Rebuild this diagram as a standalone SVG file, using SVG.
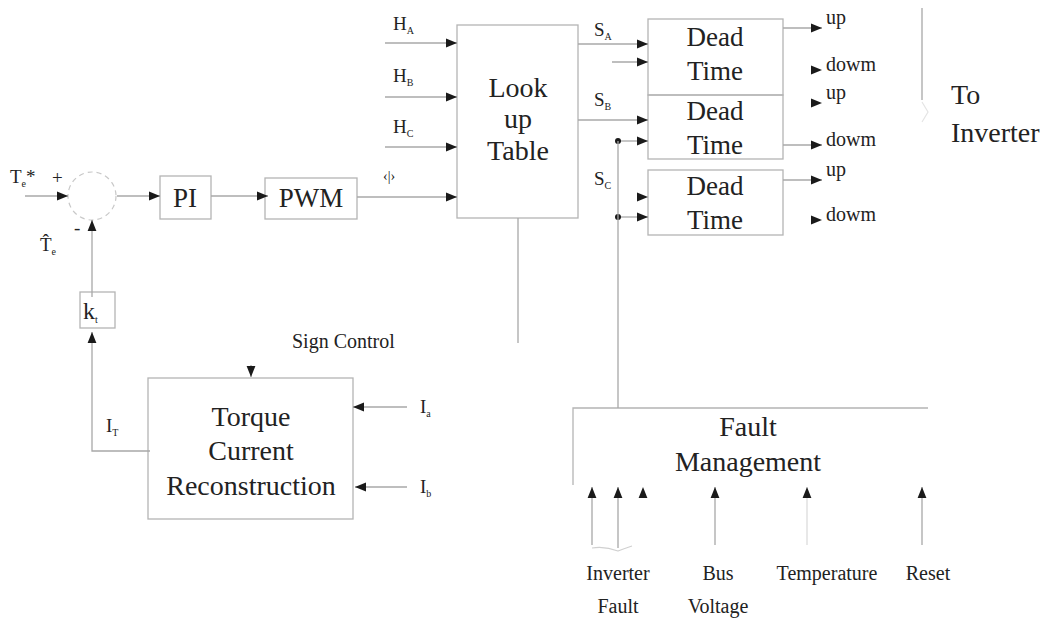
<svg xmlns="http://www.w3.org/2000/svg" width="1059" height="620" viewBox="0 0 1059 620">
<defs>
<marker id="ah" viewBox="0 0 10 10" refX="10" refY="5" markerWidth="11" markerHeight="11" markerUnits="userSpaceOnUse" orient="auto"><path d="M0,1 L10,5 L0,9 z" fill="#1a1a1a"/></marker>
<style>
.ln{stroke:#a8a8a8;stroke-width:1.3;fill:none}
.bx{stroke:#b4b4b4;stroke-width:1.3;fill:none}
.ar{stroke:#a8a8a8;stroke-width:1.3;fill:none;marker-end:url(#ah)}
.na{stroke:none;fill:none;marker-end:url(#ah)}
text{font-family:"Liberation Serif","Times New Roman",serif;fill:#222}
.big{font-size:28px;text-anchor:middle}
.mid{font-size:27px;text-anchor:middle}
.sm{font-size:20px}
.lab{font-size:19px}
.sub{font-size:10px}
</style>
</defs>
<rect width="1059" height="620" fill="#fff"/>

<g id="sum">
<circle cx="92" cy="196" r="24" fill="none" stroke="#c8c8c8" stroke-width="1.2" stroke-dasharray="5 4"/>
<text x="52" y="184" class="lab">+</text>
<text x="74" y="234" class="lab">-</text>
</g>
<g id="te-star"><text x="10" y="183" class="lab">T<tspan class="sub" dy="4">e</tspan><tspan dy="-4">*</tspan></text></g>
<g id="te-hat"><text x="40" y="251" class="lab">T&#770;<tspan class="sub" dy="4">e</tspan></text></g>

<g id="pi"><rect x="160" y="176" width="51" height="43" class="bx"/><text x="185" y="207" class="mid">PI</text></g>
<g id="pwm"><rect x="265" y="178" width="92" height="41" class="bx"/><text x="311" y="207" class="mid">PWM</text></g>

<g id="hall">
<text x="393" y="30" class="lab">H<tspan class="sub" dy="4">A</tspan></text>
<text x="393" y="82" class="lab">H<tspan class="sub" dy="4">B</tspan></text>
<text x="393" y="133" class="lab">H<tspan class="sub" dy="4">C</tspan></text>
<text x="383" y="181" font-size="14">‹|›</text>
</g>

<g id="lut"><rect x="457" y="25" width="121" height="193" class="bx"/>
<text x="518" y="97" class="big">Look</text><text x="518" y="128" class="big">up</text><text x="518" y="160" class="big">Table</text></g>

<g id="s-labels">
<text x="594" y="36" class="lab">S<tspan class="sub" dy="4">A</tspan></text>
<text x="594" y="106" class="lab">S<tspan class="sub" dy="4">B</tspan></text>
<text x="594" y="185" class="lab">S<tspan class="sub" dy="4">C</tspan></text>
</g>

<g id="dt1"><rect x="648" y="19" width="135" height="76" class="bx"/><text x="715" y="46" class="mid">Dead</text><text x="715" y="80" class="mid">Time</text></g>
<g id="dt2"><rect x="648" y="95" width="135" height="64" class="bx"/><text x="715" y="120" class="mid">Dead</text><text x="715" y="154" class="mid">Time</text></g>
<g id="dt3"><rect x="648" y="170" width="135" height="65" class="bx"/><text x="715" y="195" class="mid">Dead</text><text x="715" y="229" class="mid">Time</text></g>

<g id="outputs">
<text x="826" y="24" class="sm">up</text>
<text x="826" y="71" class="sm">dowm</text>
<text x="826" y="99" class="sm">up</text>
<text x="826" y="146" class="sm">dowm</text>
<text x="826" y="176" class="sm">up</text>
<text x="826" y="221" class="sm">dowm</text>
</g>
<g id="to-inverter"><text x="951" y="104" font-size="28">To</text><text x="951" y="142" font-size="28">Inverter</text></g>

<g id="kt"><rect x="80" y="292" width="35" height="36" class="bx"/><text x="83" y="319" font-size="24">k<tspan class="sub" dy="4">t</tspan></text></g>
<g id="it"><text x="106" y="432" class="lab">I<tspan class="sub" dy="4">T</tspan></text></g>

<g id="tcr"><rect x="148" y="378" width="205" height="141" class="bx"/>
<text x="251" y="426" class="big">Torque</text><text x="251" y="460" class="big">Current</text><text x="251" y="495" class="big">Reconstruction</text></g>
<g id="sign"><text x="292" y="348" class="sm">Sign Control</text></g>
<g id="ia"><text x="420" y="413" class="lab">I<tspan class="sub" dy="4">a</tspan></text><text x="420" y="493" class="lab">I<tspan class="sub" dy="4">b</tspan></text></g>

<g id="fault"><path d="M573,485 V408 H928" class="bx"/>
<text x="748" y="436" class="big">Fault</text><text x="748" y="471" class="big">Management</text></g>
<g id="fault-inputs">
<text x="618" y="580" class="sm" text-anchor="middle">Inverter</text>
<text x="618" y="613" class="sm" text-anchor="middle">Fault</text>
<text x="718" y="580" class="sm" text-anchor="middle">Bus</text>
<text x="718" y="613" class="sm" text-anchor="middle">Voltage</text>
<text x="827" y="580" class="sm" text-anchor="middle">Temperature</text>
<text x="928" y="580" class="sm" text-anchor="middle">Reset</text>
</g>

<g id="connectors">
<path d="M25,196 H68" class="ar"/>
<path d="M92,297 V220" class="ar"/>
<path d="M117,196 H160" class="ar"/>
<path d="M211,196 H268" class="ar"/>
<path d="M357,197 H457" class="ar"/>
<path d="M385,43 H457" class="ar"/>
<path d="M385,97 H457" class="ar"/>
<path d="M385,147 H457" class="ar"/>
<path d="M518,218 V343" class="ln"/>
<path d="M578,44 H648" class="ar"/>
<path d="M612,62 H648" class="ar"/>
<path d="M578,120 H648" class="ar"/>
<path d="M618,141 H648" class="ar"/>
<path d="M630,197 H648" class="na"/>
<path d="M618,217 H648" class="ar"/>
<circle cx="618" cy="141" r="3" fill="#1a1a1a"/>
<circle cx="618" cy="217" r="3" fill="#1a1a1a"/>
<path d="M618,141 V408" class="ln"/>
<path d="M783,28 H822" class="ar"/>
<path d="M810,70 H822" class="na"/>
<path d="M810,103 H822" class="na"/>
<path d="M783,145 H822" class="ar"/>
<path d="M783,180 H822" class="ar"/>
<path d="M810,220 H822" class="na"/>
<path d="M922,8 V100" class="ln"/>
<path d="M922,102 L928,112 L922,122" stroke="#e4e4e4" stroke-width="1.2" fill="none"/>
<path d="M150,451 H92 V332" class="ar"/>
<path d="M251,365 V377" class="ar"/>
<path d="M407,407 H353" class="ar"/>
<path d="M407,487 H355" class="ar"/>
<path d="M592,545 V487" class="ar"/>
<path d="M618,548 V487" class="ar"/>
<path d="M643,500 V487" class="na"/>
<path d="M715,545 V487" class="ar"/>
<path d="M807,545 V487" class="ar" style="stroke:#dcdcdc"/>
<path d="M922,545 V487" class="ar"/>
<path d="M592,548 Q605,546 618,551 Q626,548 632,546" stroke="#d0d0d0" stroke-width="1.2" fill="none"/>
</g>
</svg>
